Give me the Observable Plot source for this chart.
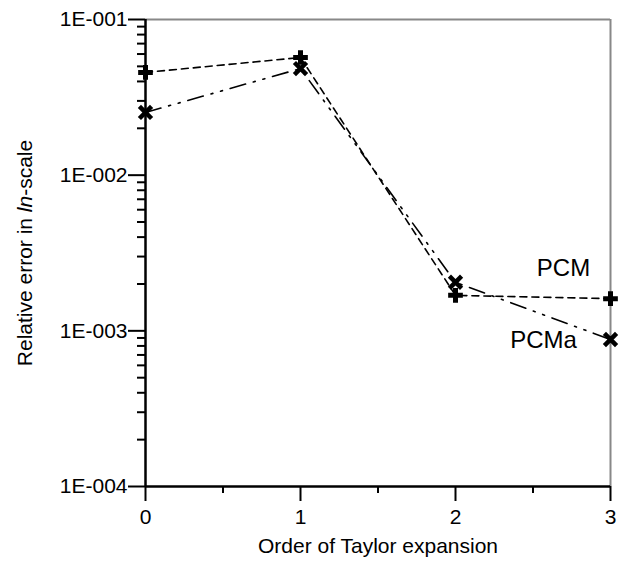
<!DOCTYPE html>
<html>
<head>
<meta charset="utf-8">
<script src="https://cdn.jsdelivr.net/npm/d3@7"></script>
<script src="https://cdn.jsdelivr.net/npm/@observablehq/plot@0.6"></script>
<style>
  html, body { margin: 0; padding: 0; background: white; }
  #chart { width: 623px; height: 562px; }
</style>
</head>
<body>
<div id="chart"></div>
<script>
const orders = [0, 1, 2, 3];
const pcmValues = [0.0457, 0.0570, 0.00169, 0.00161];
const pcmaValues = [0.0253, 0.0484, 0.00205, 0.00088];
const seriesNames = ["PCM", "PCMa"];
const xTickValues = [0, 1, 2, 3];
const xMinorTicks = [0.5, 1.5, 2.5];
const yTickValues = [1e-4, 1e-3, 1e-2, 1e-1];
const yTickLabels = ["1E-004", "1E-003", "1E-002", "1E-001"];
const xTitle = "Order of Taylor expansion";
const yTitle = "Relative error in ln-scale";

const yMinorTicks = [];
for (let e = -4; e < -1; e++) for (let m = 2; m <= 9; m++) yMinorTicks.push(m * Math.pow(10, e));

const pcm = orders.map((x, i) => ({x, y: pcmValues[i]}));
const pcma = orders.map((x, i) => ({x, y: pcmaValues[i]}));
const lastLabels = [
  {x: orders[3], y: pcmValues[3], name: seriesNames[0]},
  {x: orders[3], y: pcmaValues[3], name: seriesNames[1]}
];

const FS = 21;

const chart = Plot.plot({
  width: 623,
  height: 562,
  marginLeft: 145,
  marginRight: 13,
  marginTop: 19,
  marginBottom: 76,
  style: {fontFamily: "'Liberation Sans', Arial, sans-serif", fontSize: FS + "px", background: "white", color: "black"},
  x: {domain: [0, 3]},
  y: {type: "log", domain: [1e-4, 1e-1]},
  marks: [
    Plot.ruleY([1e-1], {stroke: "#888", strokeWidth: 2}),
    Plot.ruleX([3], {stroke: "#888", strokeWidth: 2}),
    Plot.axisY({ticks: yMinorTicks, tickSize: 8, tickFormat: () => "", label: null, strokeWidth: 2, strokeOpacity: 1}),
    Plot.axisY({ticks: yTickValues, tickSize: 17, tickPadding: 1, tickFormat: d => yTickLabels[yTickValues.indexOf(d)],
      fontSize: FS, label: yTitle, labelAnchor: "center", labelArrow: "none", labelOffset: 128, strokeWidth: 2, strokeOpacity: 1}),
    Plot.axisX({ticks: xMinorTicks, tickSize: 7, tickFormat: () => "", label: null, strokeWidth: 2, strokeOpacity: 1}),
    Plot.axisX({ticks: xTickValues, tickSize: 15, tickPadding: 8, tickFormat: d => String(d),
      fontSize: FS, label: xTitle, labelAnchor: "center", labelArrow: "none", labelOffset: 66, strokeWidth: 2, strokeOpacity: 1}),
    Plot.ruleX([0], {stroke: "black", strokeWidth: 2.5}),
    Plot.ruleY([1e-4], {stroke: "black", strokeWidth: 2.5}),
    Plot.line(pcm, {x: "x", y: "y", stroke: "black", strokeWidth: 1.6, strokeDasharray: "7,5"}),
    Plot.line(pcma, {x: "x", y: "y", stroke: "black", strokeWidth: 1.6, strokeDasharray: "16,8,2,8,2,8"}),
    Plot.dot(pcm, {x: "x", y: "y", symbol: "plus", r: 4.8, stroke: "black", strokeWidth: 5}),
    Plot.dot(pcma, {x: "x", y: "y", symbol: "times", r: 5.6, stroke: "black", strokeWidth: 4.5}),
    Plot.text([lastLabels[0]], {x: "x", y: "y", text: "name", dx: -47, dy: -30, fontSize: 24, textAnchor: "middle"}),
    Plot.text([lastLabels[1]], {x: "x", y: "y", text: "name", dx: -67, dy: 1, fontSize: 24, textAnchor: "middle"})
  ]
});

// italicise "ln" in the y-axis title and size axis labels
d3.select(chart).selectAll("text").each(function() {
  const t = d3.select(this);
  if (t.text() === yTitle) {
    t.text(null);
    t.append("tspan").text("Relative error in ");
    t.append("tspan").attr("font-style", "italic").text("ln");
    t.append("tspan").text("-scale");
  }
});
d3.select(chart).selectAll("g[aria-label$='axis label']").attr("font-size", FS);

document.getElementById("chart").appendChild(chart);
</script>
</body>
</html>
